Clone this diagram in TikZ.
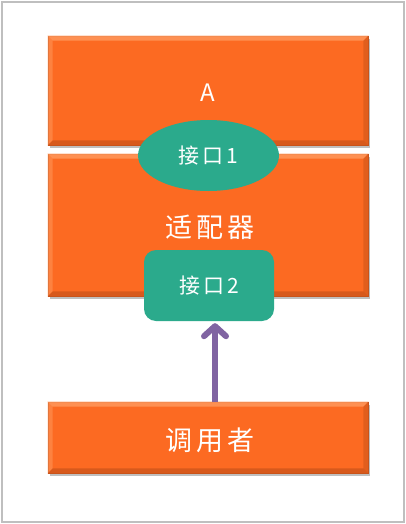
\documentclass[tikz,border=0pt]{standalone}
\usepackage{fontspec}
\newfontfamily\cjk[LetterSpace=14]{Noto Sans CJK SC}
\usetikzlibrary{arrows.meta,shapes.geometric,shadows}
\definecolor{boxorange}{HTML}{FC6A22}
\definecolor{boxlight}{HTML}{FF9A5E}
\definecolor{boxdark}{HTML}{C8531A}
\definecolor{ifgreen}{HTML}{2BAA8C}
\definecolor{arrowpurple}{HTML}{8064A2}
\definecolor{framegray}{HTML}{BFBFBF}
\tikzset{
  bevelbox/.style={draw=boxdark, line width=0.8pt, fill=boxorange, minimum width=320pt, inner sep=0pt,
    drop shadow={shadow xshift=2pt, shadow yshift=-3pt, opacity=0.25, fill=black}},
  lbl/.style={text=white, font=\cjk},
  ifshape/.style={fill=ifgreen, text=white, font=\cjk\fontsize{21}{24}\selectfont, inner sep=0pt},
}
\newcommand{\bevel}[1]{%
  \fill[boxlight,opacity=0.8] (#1.north west) -- (#1.north east) -- ([xshift=-5pt,yshift=-5pt]#1.north east) -- ([xshift=5pt,yshift=-5pt]#1.north west) -- cycle;
  \fill[boxlight,opacity=0.5] (#1.north west) -- ([xshift=5pt,yshift=-5pt]#1.north west) -- ([xshift=5pt,yshift=5pt]#1.south west) -- (#1.south west) -- cycle;
  \fill[boxdark,opacity=0.7] (#1.south west) -- (#1.south east) -- ([xshift=-5pt,yshift=5pt]#1.south east) -- ([xshift=5pt,yshift=5pt]#1.south west) -- cycle;
  \fill[boxdark,opacity=0.5] (#1.north east) -- ([xshift=-5pt,yshift=-5pt]#1.north east) -- ([xshift=-5pt,yshift=5pt]#1.south east) -- (#1.south east) -- cycle;
}
\begin{document}
\begin{tikzpicture}[x=1pt,y=-1pt]
\useasboundingbox (0,0) rectangle (406,524);
\fill[white] (0,0) rectangle (406,524);
\draw[framegray, line width=2pt] (2,2) rectangle (404,522);
% boxes
\node[bevelbox, minimum height=109pt] (a) at (208,90.5) {};
\bevel{a}
\node[bevelbox, minimum height=142pt] (adapter) at (208,225) {};
\bevel{adapter}
\node[bevelbox, minimum height=71pt] (caller) at (208,437.5) {};
\bevel{caller}
% labels
\node[lbl, font=\cjk\fontsize{24}{28}\selectfont] (alabel) at (208,93) {A};
\node[lbl, font=\cjk\fontsize{27}{32}\selectfont] (adlabel) at (210,227) {适配器};
\node[lbl, font=\cjk\fontsize{27}{32}\selectfont] (calabel) at (210,440) {调用者};
% interfaces
\node[ifshape, ellipse, minimum width=141pt, minimum height=71pt] (if1) at (208.5,155.5) {接口1};
\node[ifshape, rectangle, rounded corners=12pt, minimum width=130pt, minimum height=71pt] (if2) at (209,285.5) {接口2};
% arrow
\draw[arrowpurple, line width=6pt, -{Straight Barb[length=10pt,width=22pt,line cap=round,line join=round]}] ([xshift=7pt]caller.north) -- ([xshift=6pt, yshift=-2pt]if2.south);
\end{tikzpicture}
\end{document}
